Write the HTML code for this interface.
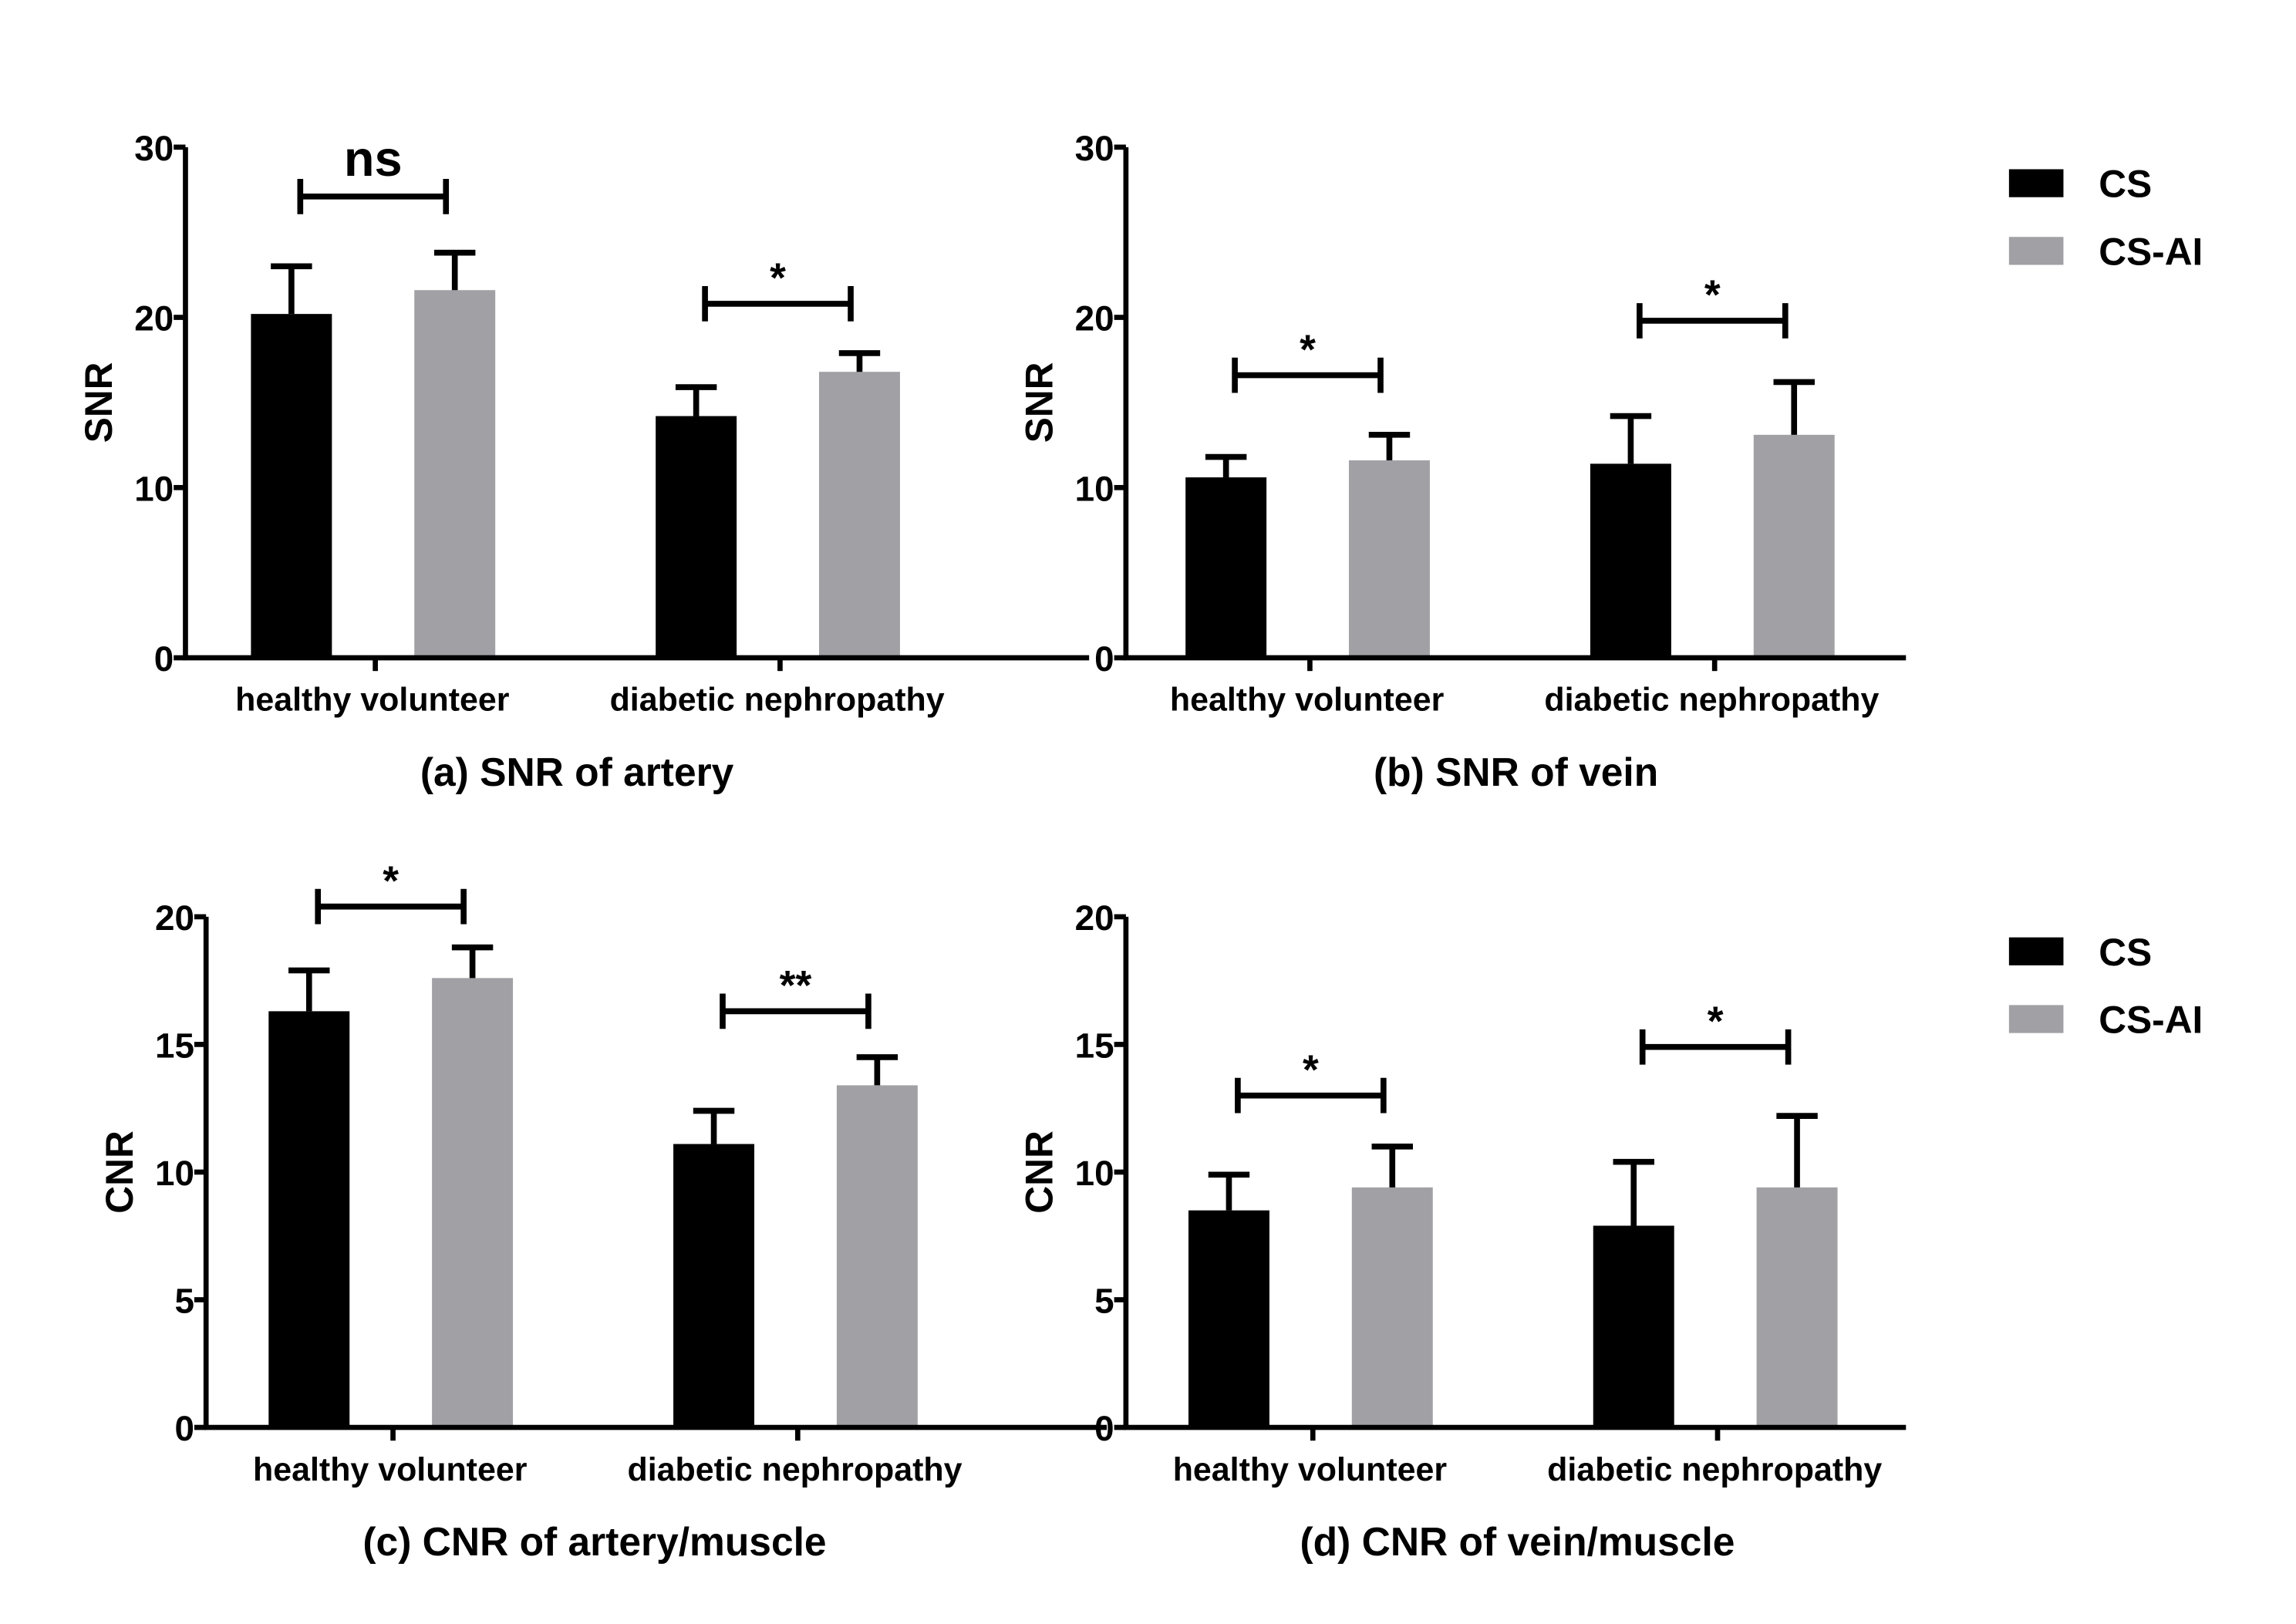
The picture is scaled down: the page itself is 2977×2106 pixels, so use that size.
<!DOCTYPE html>
<html><head><meta charset="utf-8"><style>
html,body{margin:0;padding:0;background:#fff;}
svg{display:block;font-family:"Liberation Sans",sans-serif;font-weight:bold;}
</style></head><body>
<svg id="fig" width="2977" height="2106" viewBox="0 0 1560 1103.6" xmlns="http://www.w3.org/2000/svg"></svg>
<script>
const categories = ["healthy volunteer", "diabetic nephropathy"];
const seriesNames = ["CS", "CS-AI"];
const snrArteryMeans = [[20.2, 21.6], [14.2, 16.8]];
const snrArteryErr = [[2.8, 2.2], [1.7, 1.1]];
const snrVeinMeans = [[10.6, 11.6], [11.4, 13.1]];
const snrVeinErr = [[1.2, 1.5], [2.8, 3.1]];
const cnrArteryMeans = [[16.3, 17.6], [11.1, 13.4]];
const cnrArteryErr = [[1.6, 1.2], [1.3, 1.1]];
const cnrVeinMeans = [[8.5, 9.4], [7.9, 9.4]];
const cnrVeinErr = [[1.4, 1.6], [2.5, 2.8]];
const snrTicks = [0, 10, 20, 30];
const cnrTicks = [0, 5, 10, 15, 20];
const snrSig = [["ns", 27.1], ["*", 20.8]];
const snrVeinSig = [["*", 16.6], ["*", 19.8]];
const cnrArterySig = [["*", 20.4], ["**", 16.3]];
const cnrVeinSig = [["*", 13.0], ["*", 14.9]];

const NS = "http://www.w3.org/2000/svg";
const svg = document.getElementById("fig");
function mk(tag, attrs, parent){const e=document.createElementNS(NS,tag);for(const k in attrs)e.setAttribute(k,attrs[k]);(parent||svg).appendChild(e);return e;}
const colors = ["#000000", "#a1a0a5"];

function panel(opt){
  const g = mk("g", {});
  
  
  const ymax = opt.ticks[opt.ticks.length-1];
  const y = v => opt.y0 - (v/ymax)*(opt.y0-opt.yTop);
  const catX = [opt.ax+opt.c1, opt.ax+opt.c1+275];
  opt.means.forEach((pair, ci)=>{
    pair.forEach((m, si)=>{
      const cx = catX[ci] + (si===0?-57:54);
      const r = mk("rect", {x:cx-27.5, y:y(m), width:55, height:opt.y0-y(m), fill:colors[si]}, g);
      
      
      const top = y(m+opt.err[ci][si]);
      const e = mk("path", {d:`M${cx} ${y(m)}V${top}M${cx-14} ${top}H${cx+14}`, stroke:"#000", "stroke-width":4, fill:"none"}, g);
      
      
    });
    const [lab, v] = opt.sig[ci];
    const x1 = catX[ci]-57+6, x2 = catX[ci]+54-6, by = y(v);
    const b = mk("path", {d:`M${x1} ${by-12}V${by+12}M${x1} ${by}H${x2}M${x2} ${by-12}V${by+12}`, stroke:"#000", "stroke-width":4, fill:"none"}, g);
    
    
    const t = mk("text", {x:(x1+x2)/2, y: lab==="ns"? by-14 : by-8, "text-anchor":"middle", "font-size": lab==="ns"?34:28}, g);
    t.textContent = lab;
    
    
  });
  const ax = mk("path", {d:`M${opt.ax} ${opt.yTop}V${opt.y0}H${opt.ax+opt.len}`, stroke:"#000", "stroke-width":3.5, fill:"none"}, g);
  
  
  opt.ticks.forEach(tv=>{
    mk("line", {x1:opt.ax-8, x2:opt.ax, y1:y(tv), y2:y(tv), stroke:"#000", "stroke-width":3.5}, g);
    const t = mk("text", {x:opt.ax-8, y:y(tv)+9, "text-anchor":"end", "font-size":24}, g);
    t.textContent = tv;
    
    
  });
  categories.forEach((c, ci)=>{
    mk("line", {x1:catX[ci], x2:catX[ci], y1:opt.y0, y2:opt.y0+9, stroke:"#000", "stroke-width":3.5}, g);
    const t = mk("text", {x:catX[ci]-2, y:opt.y0+36, "text-anchor":"middle", "font-size":22.5}, g);
    t.textContent = c;
    
    
  });
  const yt = mk("text", {x:0, y:0, "text-anchor":"middle", "font-size":26, transform:`translate(${opt.ax-50},${(opt.y0+opt.yTop)/2}) rotate(-90)`}, g);
  yt.textContent = opt.ylabel;
  
  
  const tt = mk("text", {x:opt.ax+opt.tx, y:opt.y0+87, "text-anchor":"middle", "font-size":27}, g);
  tt.textContent = opt.title;
  
  
}

panel({name:"panel-a", ax:126, len:614, c1:129, tx:266, y0:447, yTop:100, ticks:snrTicks, means:snrArteryMeans, err:snrArteryErr, sig:snrSig, ylabel:"SNR", title:"(a) SNR of artery"});
panel({name:"panel-b", ax:765, len:530, c1:125, tx:265, y0:447, yTop:100, ticks:snrTicks, means:snrVeinMeans, err:snrVeinErr, sig:snrVeinSig, ylabel:"SNR", title:"(b) SNR of vein"});
panel({name:"panel-c", ax:140, len:612, c1:127, tx:264, y0:970, yTop:623, ticks:cnrTicks, means:cnrArteryMeans, err:cnrArteryErr, sig:cnrArterySig, ylabel:"CNR", title:"(c) CNR of artery/muscle"});
panel({name:"panel-d", ax:765, len:530, c1:127, tx:266, y0:970, yTop:623, ticks:cnrTicks, means:cnrVeinMeans, err:cnrVeinErr, sig:cnrVeinSig, ylabel:"CNR", title:"(d) CNR of vein/muscle"});

[115, 637].forEach((ly, li)=>{
  seriesNames.forEach((s, si)=>{
    const yy = ly + si*46;
    const r = mk("rect", {x:1365, y:yy, width:37, height:19, fill:colors[si]});
    
    
    const t = mk("text", {x:1426, y:yy+19, "font-size":26});
    t.textContent = s;
    
    
  });
});
</script>
</body></html>
